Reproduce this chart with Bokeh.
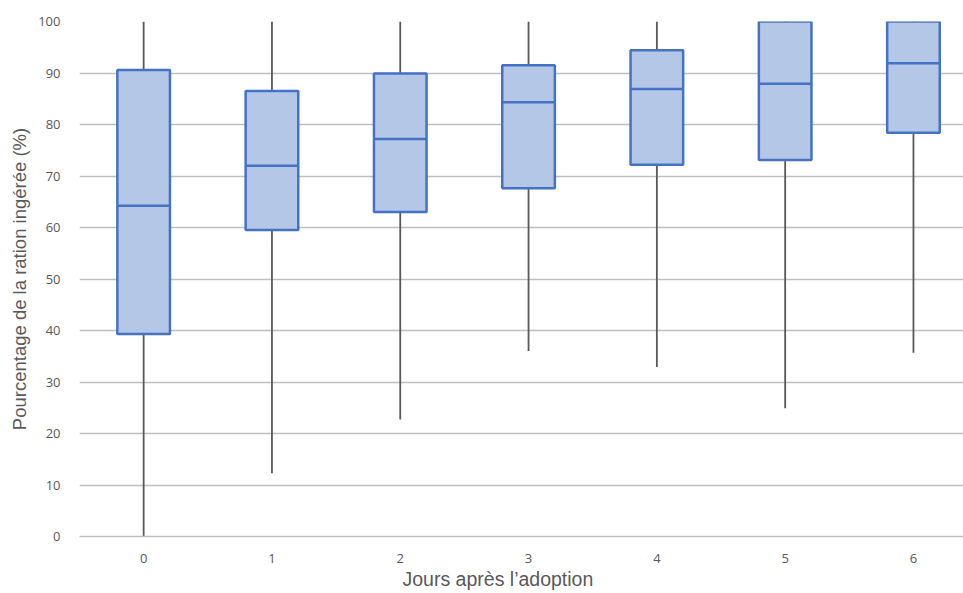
from bokeh.plotting import figure
from bokeh.models import Range1d, FixedTicker, Title
from bokeh.embed import file_html
from bokeh.resources import INLINE

days = [0, 1, 2, 3, 4, 5, 6]
day_labels = ["0", "1", "2", "3", "4", "5", "6"]
lows = [0.0, 12.3, 22.7, 36.0, 32.9, 24.9, 35.7]
q1 = [39.3, 59.5, 63.0, 67.6, 72.2, 73.1, 78.4]
medians = [64.2, 72.0, 77.2, 84.3, 86.9, 87.9, 91.9]
q3 = [90.6, 86.5, 89.9, 91.5, 94.4, 100.0, 100.0]
highs = [100.0, 100.0, 100.0, 100.0, 100.0, 100.0, 100.0]
y_ticks = [0, 10, 20, 30, 40, 50, 60, 70, 80, 90, 100]
x_title = "Jours après l’adoption"
y_title = "Pourcentage de la ration ingérée (%)"

BOX_W = 0.41
FILL = "#B4C7E7"
EDGE = "#4472C4"
TXT = "#595959"
GRID = "#BFBFBF"

p = figure(width=963, height=593, output_backend="svg", toolbar_location=None,
           x_range=Range1d(-0.5, 6.39), y_range=Range1d(0, 100),
           min_border_left=79, min_border_right=0, min_border_top=21, min_border_bottom=57)
p.outline_line_color = None
p.background_fill_color = "white"

p.segment(x0=days, y0=lows, x1=days, y1=highs, line_color="#595959", line_width=1.8)
p.vbar(x=days, bottom=q1, top=q3, width=BOX_W, fill_color=FILL, line_color=EDGE, line_width=2.5)
p.segment(x0=[d - BOX_W / 2 for d in days], y0=medians, x1=[d + BOX_W / 2 for d in days], y1=medians,
          line_color=EDGE, line_width=2.5)

p.xgrid.grid_line_color = None
p.ygrid.grid_line_color = GRID
p.ygrid.grid_line_width = 1.5
p.ygrid.level = "underlay"

p.xaxis.ticker = FixedTicker(ticks=days)
p.xaxis.major_label_overrides = {d: l for d, l in zip(days, day_labels)}
p.yaxis.ticker = FixedTicker(ticks=y_ticks)

for ax in (p.xaxis, p.yaxis):
    ax.major_tick_line_color = None
    ax.minor_tick_line_color = None
    ax.major_label_text_color = TXT
    ax.major_label_text_font = "Open Sans"
    ax.major_label_text_font_size = "13px"
    ax.axis_label_text_color = TXT
    ax.axis_label_text_font = "Liberation Sans"
    ax.axis_label_text_font_size = "18.5px"
    ax.axis_label_text_font_style = "normal"

p.xaxis.axis_line_color = GRID
p.xaxis.axis_line_width = 1.5
p.yaxis.axis_line_color = None
p.xaxis.major_label_standoff = 11
p.yaxis.major_label_standoff = 13
p.yaxis.axis_label = y_title
p.yaxis.axis_label_standoff = 5

t = Title(text=x_title, align="left", offset=323, standoff=1,
          text_font="Liberation Sans", text_font_size="19.5px",
          text_font_style="normal", text_color=TXT)
p.add_layout(t, "below")

open("out.html", "w").write(file_html(p, INLINE))
